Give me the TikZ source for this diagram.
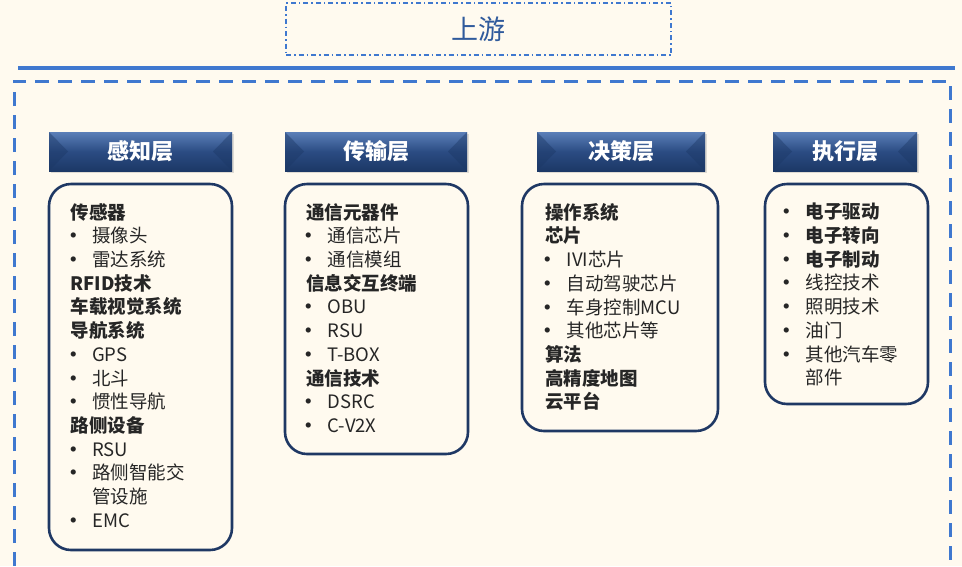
\documentclass[tikz,border=0pt]{standalone}
\usepackage{fontspec}
\setmainfont{Noto Sans CJK SC}
\usepackage{xcolor}
\usetikzlibrary{positioning,calc,shadows}

\definecolor{bgcream}{HTML}{FFFAEF}
\definecolor{lineblue}{HTML}{3F78CF}
\definecolor{titleblue}{HTML}{2F5A9C}
\definecolor{navy}{HTML}{1C3866}
\definecolor{navymid}{HTML}{2B4C83}
\definecolor{navylight}{HTML}{5B7FB8}
\definecolor{cardnavy}{HTML}{1F3864}

% bullet line and wrapped line
\newcommand\itm[1]{\makebox[21.5pt][l]{\hspace{3pt}\makebox[0pt][c]{\bfseries •}}#1}
\newcommand\cont[1]{\hspace*{21.5pt}#1}

\begin{document}
\begin{tikzpicture}[x=1pt, y=-1pt,
    layer/.style={minimum height=39pt, inner sep=0pt, text=white,
        font=\fontsize{22}{22}\selectfont\bfseries,
        top color=navylight, bottom color=navy, middle color=navymid,
        drop shadow={opacity=0.25, shadow xshift=1.5pt, shadow yshift=-2pt},
        path picture={
            \fill[navy, opacity=0.45] (path picture bounding box.north west)
                -- ($(path picture bounding box.west)+(19pt,0)$)
                -- (path picture bounding box.south west) -- cycle;
            \fill[navy, opacity=0.45] (path picture bounding box.north east)
                -- ($(path picture bounding box.east)+(-19pt,0)$)
                -- (path picture bounding box.south east) -- cycle;
        }},
    card/.style={draw=cardnavy, line width=2.6pt, rounded corners=22pt},
    items/.style={anchor=north west, align=left, inner sep=0pt, text=black!85,
        font=\fontsize{18.5}{23.7}\selectfont}]

    % Page and background
    \useasboundingbox (0,0) rectangle (962,566);
    \fill[bgcream] (0,0) rectangle (962,566);

    % Title
    \node[draw=lineblue, line width=1.3pt, dash pattern=on 5pt off 3pt on 1.5pt off 3pt,
        minimum width=385pt, minimum height=52pt, text=titleblue,
        font=\fontsize{27}{27}\selectfont] (upstream) at (478.5,29) {上游};

    % Rules
    \draw[lineblue, line width=3.5pt] (18,68) -- (955,68);
    \draw[lineblue, line width=3pt, dash pattern=on 14pt off 9pt]
        (14,566) -- (14,81) -- (950,81) -- (950,566);

    % Layer headers
    \node[layer, minimum width=183pt] (hsense) at (140.5,151.5) {感知层};
    \node[layer, minimum width=182pt] (htrans) at (376,151.5) {传输层};
    \node[layer, minimum width=168pt] (hdecide) at (621,151.5) {决策层};
    \node[layer, minimum width=144pt] (hexec) at (845,151.5) {执行层};

    % Cards
    \draw[card] (49,184) rectangle (232,550);
    \draw[card] (285,184) rectangle (468,454);
    \draw[card] (522,184) rectangle (718,431);
    \draw[card] (765,184) rectangle (928,404);

    % Sensing layer
    \node[items] (sense) at (70.5,203) {
        {\bfseries 传感器}\\
        \itm{摄像头}\\
        \itm{雷达系统}\\
        {\bfseries RFID技术}\\
        {\bfseries 车载视觉系统}\\
        {\bfseries 导航系统}\\
        \itm{GPS}\\
        \itm{北斗}\\
        \itm{惯性导航}\\
        {\bfseries 路侧设备}\\
        \itm{RSU}\\
        \itm{路侧智能交}\\
        \cont{管设施}\\
        \itm{EMC}};

    % Transmission layer
    \node[items] (trans) at (306,203) {
        {\bfseries 通信元器件}\\
        \itm{通信芯片}\\
        \itm{通信模组}\\
        {\bfseries 信息交互终端}\\
        \itm{OBU}\\
        \itm{RSU}\\
        \itm{T-BOX}\\
        {\bfseries 通信技术}\\
        \itm{DSRC}\\
        \itm{C-V2X}};

    % Decision layer
    \node[items] (decide) at (545,203) {
        {\bfseries 操作系统}\\
        {\bfseries 芯片}\\
        \itm{IVI芯片}\\
        \itm{自动驾驶芯片}\\
        \itm{车身控制MCU}\\
        \itm{其他芯片等}\\
        {\bfseries 算法}\\
        {\bfseries 高精度地图}\\
        {\bfseries 云平台}};

    % Execution layer
    \node[items] (exec) at (784,203) {
        \itm{\bfseries 电子驱动}\\
        \itm{\bfseries 电子转向}\\
        \itm{\bfseries 电子制动}\\
        \itm{线控技术}\\
        \itm{照明技术}\\
        \itm{油门}\\
        \itm{其他汽车零}\\
        \cont{部件}};
\end{tikzpicture}
\end{document}
